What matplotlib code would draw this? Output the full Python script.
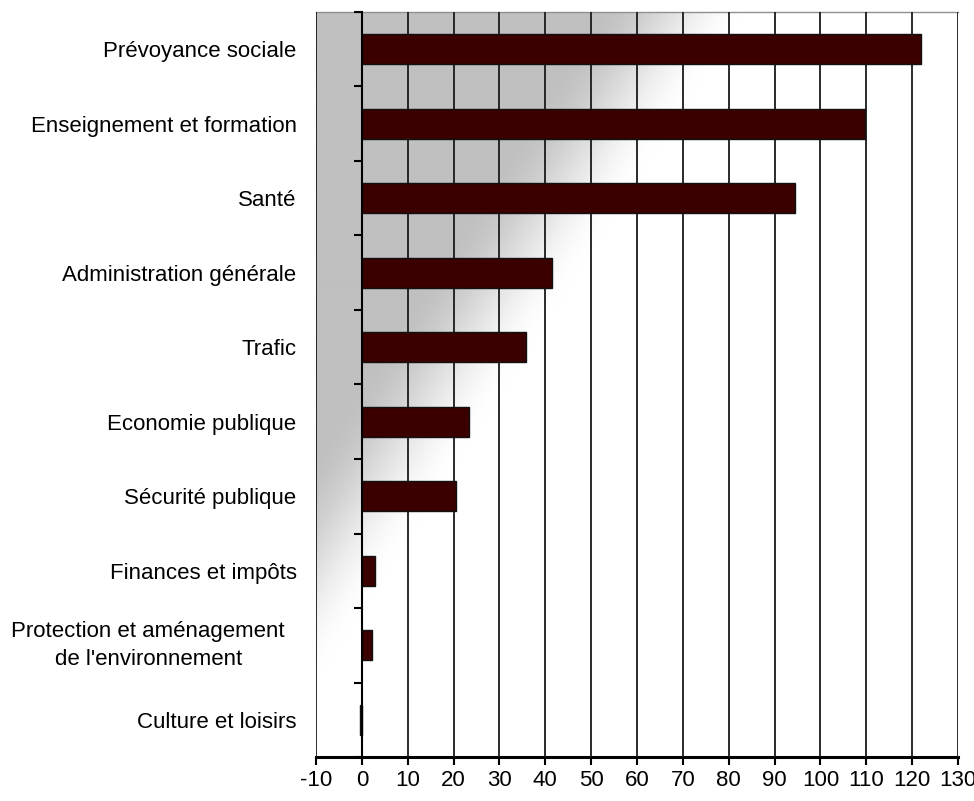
import numpy as np
import matplotlib
matplotlib.use("Agg")
import matplotlib.pyplot as plt

# Dépenses par fonction
categories = [
    "Prévoyance sociale",
    "Enseignement et formation",
    "Santé",
    "Administration générale",
    "Trafic",
    "Economie publique",
    "Sécurité publique",
    "Finances et impôts",
    "Protection et aménagement\nde l'environnement",
    "Culture et loisirs",
]
values = [122.0, 109.7, 94.4, 41.4, 35.7, 23.3, 20.6, 2.8, 2.2, -0.4]
x_ticks = list(range(-10, 131, 10))

plt.rcParams['font.family'] = ['Liberation Sans', 'DejaVu Sans']

fig = plt.figure(figsize=(9.74, 8.01), dpi=100)
ax = fig.add_axes([316 / 974, 44 / 801, 642 / 974, 745 / 801])

# Fond en dégradé gris -> blanc (diagonale)
H, W = 745, 642
rows, cols = np.mgrid[0:H, 0:W]
s = cols + 0.64 * rows
s0, s1 = 280.0, 430.0
t = np.clip((s - s0) / (s1 - s0), 0, 1)
t = t * t * (3 - 2 * t)
grey = (192 + (255 - 192) * t) / 255.0
bg = np.dstack([grey, grey, grey])

n = len(categories)
ax.imshow(bg, extent=(-10, 130, n - 0.5, -0.5), aspect='auto',
          interpolation='bilinear', zorder=0)

pos = np.arange(n)
# petite ombre grise sous les barres
ax.barh(pos + 0.015, np.array(values) + 0.25, height=0.40, color='#8a8a8a',
        linewidth=0, zorder=2)
ax.barh(pos, values, height=0.40, color='#3A0000', edgecolor='#111111',
        linewidth=1.0, zorder=3)

ax.set_xlim(-10, 130)
ax.set_ylim(n - 0.5, -0.5)

ax.set_xticks(x_ticks)
ax.set_xticklabels([str(v) for v in x_ticks])
ax.tick_params(axis='x', direction='out', length=5.5, width=1.5, pad=4,
               color='black', labelsize=16)
ax.grid(axis='x', color='#1a1a1a', linewidth=1.3, zorder=1)
ax.set_axisbelow(False)
for gl in ax.get_xgridlines():
    gl.set_zorder(1)

# étiquettes des catégories : celle sur deux lignes est placée à part
ax.set_yticks(pos)
ax.set_yticks(np.arange(-0.5, n, 1.0), minor=True)
ax.tick_params(axis='y', which='major', length=0, pad=47, labelsize=16)
ax.tick_params(axis='y', which='minor', direction='out', length=6,
               width=1.5, color='black')
ax.set_yticklabels(["" if "\n" in c else c for c in categories])
for i, c in enumerate(categories):
    if "\n" in c:
        ax.text(-31 / 642, pos[i], c, transform=ax.get_yaxis_transform(),
                ha='right', va='center', multialignment='center',
                fontsize=16, linespacing=1.45)

ax.spines['left'].set_position(('data', 0))
ax.spines['left'].set_linewidth(1.5)
ax.spines['left'].set_zorder(4)
ax.spines['bottom'].set_linewidth(2.2)
ax.spines['top'].set_color('#909090')
ax.spines['top'].set_linewidth(1.0)
ax.spines['right'].set_visible(False)

fig.savefig("out.png", dpi=100)
